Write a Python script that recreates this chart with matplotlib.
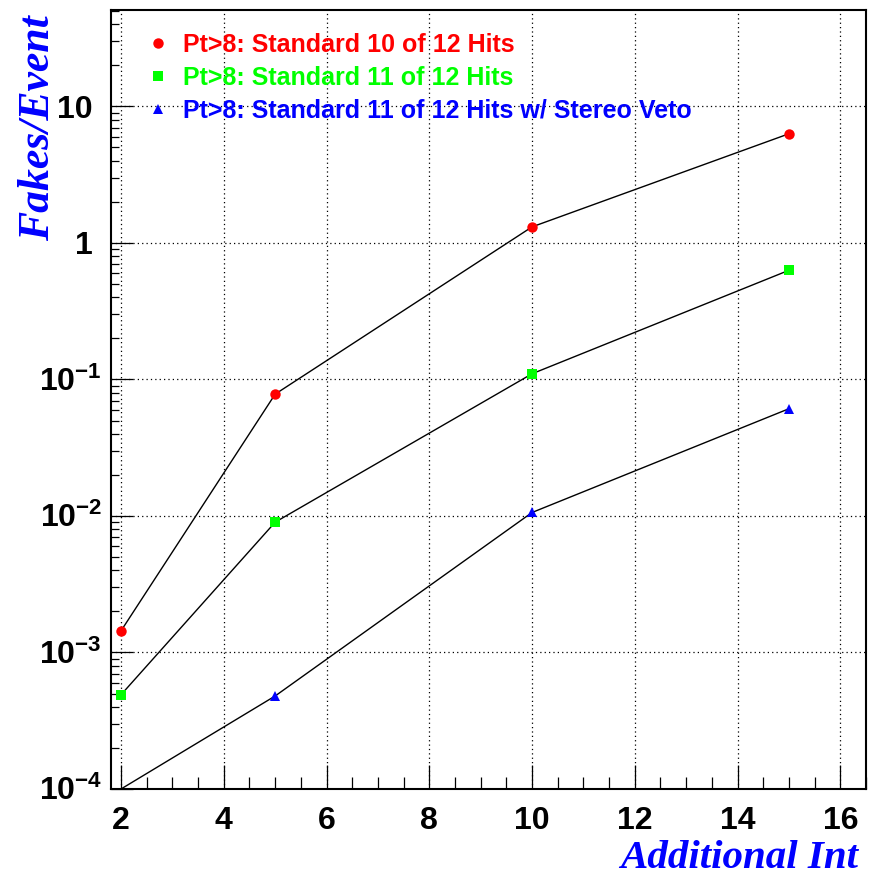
import matplotlib
matplotlib.use("Agg")
import matplotlib.pyplot as plt
import matplotlib.transforms as mtransforms
from matplotlib.lines import Line2D
from matplotlib.ticker import FixedLocator, MultipleLocator, LogLocator, NullFormatter

plt.rcParams['font.family'] = ['Liberation Sans', 'DejaVu Sans']
plt.rcParams['mathtext.fontset'] = 'custom'
plt.rcParams['mathtext.rm'] = 'Liberation Sans:bold'
plt.rcParams['mathtext.bf'] = 'Liberation Sans:bold'
plt.rcParams['mathtext.it'] = 'Liberation Sans:bold'

# Additional interactions per event
additional_int = [2, 5, 10, 15]

# Fake tracks per event for each selection
fakes_10of12 = [1.44e-3, 0.078, 1.31, 6.3]
fakes_11of12 = [4.9e-4, 9.0e-3, 0.110, 0.63]
fakes_11of12_veto = [1.0e-4, 4.8e-4, 0.0106, 0.061]

labels = [
    "Pt>8: Standard 10 of 12 Hits",
    "Pt>8: Standard 11 of 12 Hits",
    "Pt>8: Standard 11 of 12 Hits w/ Stereo Veto",
]
colors = ["#ff0000", "#00ff00", "#0000ff"]
markers = ["o", "s", "^"]
msizes = [7.5, 7.2, 7.2]

y_decades = [1e-4, 1e-3, 1e-2, 1e-1, 1, 10]
y_decade_labels = ["-4", "-3", "-2", "-1", "1", "10"]
x_ticks = [2, 4, 6, 8, 10, 12, 14, 16]

W, H = 871, 874
fig = plt.figure(figsize=(W / 100, H / 100), dpi=100)
ax = fig.add_axes([111 / W, 85 / H, 755 / W, 779 / H])

ax.set_yscale("log")
ax.set_xlim(1.805, 16.5)
ax.set_ylim(1e-4, 50.8)

series = [fakes_10of12, fakes_11of12, fakes_11of12_veto]
ymin = ax.get_ylim()[0]
for vals, c, m, ms in zip(series, colors, markers, msizes):
    ax.plot(additional_int, vals, color="black", lw=1.0, zorder=3)
    xs = [x for x, v in zip(additional_int, vals) if v > ymin * 1.01]
    vs = [v for v in vals if v > ymin * 1.01]
    ax.plot(xs, vs, linestyle="none", marker=m, ms=ms, color=c,
            markeredgewidth=0, zorder=4)

# axes frame and ticks
for side in ["left", "bottom", "right", "top"]:
    ax.spines[side].set_linewidth(1.5)
ax.xaxis.set_major_locator(FixedLocator(x_ticks))
ax.xaxis.set_minor_locator(MultipleLocator(0.5))
ax.yaxis.set_major_locator(FixedLocator(y_decades))
ax.yaxis.set_minor_locator(LogLocator(base=10, subs=range(2, 10), numticks=20))
ax.yaxis.set_minor_formatter(NullFormatter())
ax.tick_params(axis="x", which="major", direction="in", length=17, width=0.9,
               pad=12, labelsize=23)
ax.tick_params(axis="x", which="minor", direction="in", length=8.5, width=0.9)
ax.tick_params(axis="y", which="major", direction="in", length=16, width=0.9,
               labelleft=False)
ax.tick_params(axis="y", which="minor", direction="in", length=6, width=0.9)
ax.tick_params(top=False, right=False, which="both")
ax.set_xticklabels([str(t) for t in x_ticks], fontweight="bold", fontsize=23)

ax.grid(True, which="major", color="black", linestyle=(0, (1, 2.5)), lw=0.9)

# decade labels on the log axis
for v, s in zip(y_decades, y_decade_labels):
    off = mtransforms.ScaledTranslation(0, -0.115, fig.dpi_scale_trans)
    trans = mtransforms.blended_transform_factory(ax.transAxes, ax.transData) + off
    if s in ("1", "10"):
        ax.text(-18 / 755, v, s, transform=trans, ha="right", va="baseline",
                fontsize=23, fontweight="bold", clip_on=False)
    else:
        ax.text(-9 / 755, v, r"$10^{%s}$" % s, transform=trans, ha="right",
                va="baseline", fontsize=23, clip_on=False)

# axis titles
ax.text(1.0 - 8 / 755, -0.102, "Additional Int", transform=ax.transAxes,
        ha="right", va="baseline", fontsize=29.5, color="#0000ff",
        family="Liberation Serif", fontweight="bold", style="italic")
ax.text(-0.097, 1.0 - 5 / 779, "Fakes/Event", transform=ax.transAxes,
        ha="center", va="top", rotation=90, fontsize=31.5, color="#0000ff",
        family="Liberation Serif", fontweight="bold", style="italic")

handles = [Line2D([], [], linestyle="none", marker=m, ms=ms, color=c,
                  markeredgewidth=0) for c, m, ms in zip(colors, markers, msizes)]
leg = ax.legend(handles, labels, loc="upper left",
                bbox_to_anchor=(0.0457, 0.9711), frameon=False,
                prop={"family": "Liberation Sans", "weight": "bold", "size": 18},
                labelcolor=colors, handlelength=1.0, handletextpad=0.5,
                labelspacing=0.36, borderpad=0, borderaxespad=0)

fig.savefig("out.png", dpi=100)
